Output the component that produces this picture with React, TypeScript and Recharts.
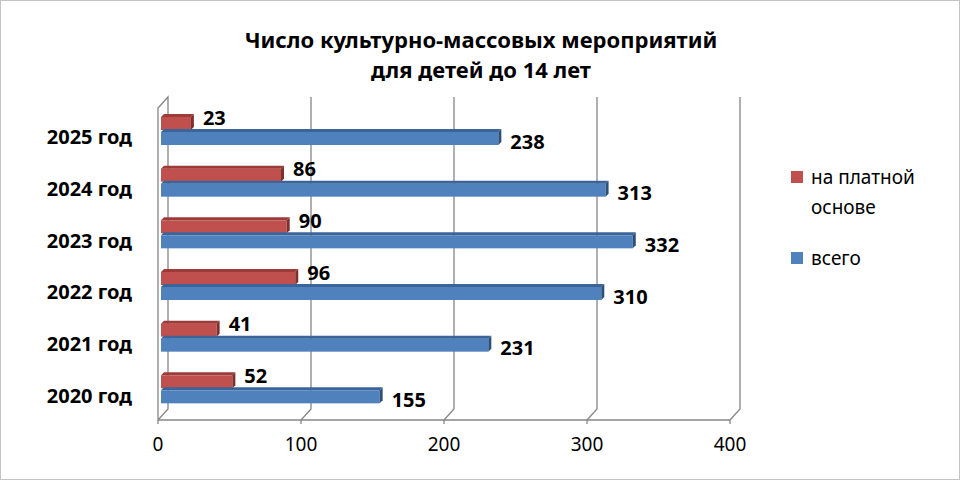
import React from 'react'
import { BarChart, Bar, XAxis, YAxis, CartesianGrid, Legend, LabelList } from 'recharts'

const years = ['2025 год', '2024 год', '2023 год', '2022 год', '2021 год', '2020 год']
const paid = [23, 86, 90, 96, 41, 52]
const total = [238, 313, 332, 310, 231, 155]
const xTicks = [0, 100, 200, 300, 400]

const data = years.map((year, i) => ({ year, paid: paid[i], total: total[i] }))

const FONT = '"Noto Sans", sans-serif'
const DX = 10
const DY = 11

const RED = { front: '#c0504d', top: '#9c3b38', side: '#7f2f2d' }
const BLUE = { front: '#4f81bd', top: '#3b659a', side: '#2c4f7c' }

function bar3d(colors: typeof RED) {
  return (props: any) => {
    const { x, y, width, height } = props
    if (!width) return <g />
    const d = 3
    const x0 = x + 3
    const x1 = x + width
    return (
      <g>
        <rect x={x0} y={y + d} width={x1 - x0} height={height - d} fill={colors.front} />
        <polygon
          points={`${x0},${y + d} ${x0 + d},${y} ${x1 + d},${y} ${x1},${y + d}`}
          fill={colors.top}
        />
        <polygon
          points={`${x1},${y + d} ${x1 + d},${y} ${x1 + d},${y + height - d} ${x1},${y + height}`}
          fill={colors.side}
        />
      </g>
    )
  }
}

const gridLine = (props: any) => {
  const { x1, y1, y2, index } = props
  const stroke = '#868686'
  if (index === 0) {
    return (
      <path
        key={`g${index}`}
        d={`M${x1},${y2} L${x1},${y1 + 4} L${x1 + DX},${y1 - 7} L${x1 + DX},${y2 - DY} L${x1},${y2}`}
        fill="none"
        stroke={stroke}
        strokeWidth={1.3}
      />
    )
  }
  return (
    <path
      key={`g${index}`}
      d={`M${x1},${y2} L${x1 + DX},${y2 - DY} L${x1 + DX},${y1 - 7}`}
      fill="none"
      stroke={stroke}
      strokeWidth={1.3}
    />
  )
}

const valueLabel = (dy: number) => (props: any) => {
  const { x, y, width, height, value } = props
  return (
    <text
      x={x + width + 12}
      y={y + height / 2 + dy}
      fontFamily={FONT}
      fontWeight="bold"
      fontSize={20}
      fill="#000"
      dominantBaseline="central"
    >
      {value}
    </text>
  )
}

const yTick = (props: any) => {
  const { x, y, payload } = props
  return (
    <text
      x={x}
      y={y + 7}
      textAnchor="end"
      dominantBaseline="central"
      fontFamily={FONT}
      fontWeight="bold"
      fontSize={20}
      fill="#000"
    >
      {payload.value}
    </text>
  )
}

const legendContent = () => (
  <div style={{ fontFamily: FONT, fontSize: 19, color: '#000', lineHeight: '30px' }}>
    <div style={{ display: 'flex', alignItems: 'flex-start' }}>
      <span style={{ width: 12, height: 12, background: RED.front, marginTop: 9, marginRight: 8 }} />
      <span>
        на платной
        <br />
        основе
      </span>
    </div>
    <div style={{ display: 'flex', alignItems: 'flex-start', marginTop: 21 }}>
      <span style={{ width: 12, height: 12, background: BLUE.front, marginTop: 9, marginRight: 8 }} />
      <span>всего</span>
    </div>
  </div>
)

export default function App() {
  return (
    <div
      style={{
        position: 'absolute',
        left: 0,
        top: 0,
        width: 960,
        height: 480,
        boxSizing: 'border-box',
        border: '1px solid #c4c4c4',
        background: '#fff',
        overflow: 'hidden',
      }}
    >
      <div
        style={{
          position: 'absolute',
          top: 23,
          left: 0,
          width: 960,
          textAlign: 'center',
          fontFamily: FONT,
          fontWeight: 'bold',
          fontSize: 22,
          lineHeight: '30px',
          color: '#000',
        }}
      >
        Число культурно-массовых мероприятий
        <br />
        для детей до 14 лет
      </div>
      <div style={{ position: 'absolute', left: -1, top: -1 }}>
        <BarChart
          width={960}
          height={480}
          data={data}
          layout="vertical"
          margin={{ top: 104, right: 70, left: 0, bottom: 0 }}
          barSize={16}
          barGap={-1}
        >
          <CartesianGrid horizontal={false} vertical={gridLine} />
          <XAxis
            type="number"
            domain={[0, 400]}
            ticks={xTicks}
            height={60}
            axisLine={{ stroke: '#868686', strokeWidth: 1.3 }}
            tickLine={{ stroke: '#868686', strokeWidth: 1.3 }}
            tickSize={4}
            tickMargin={14}
            tick={{ fontFamily: FONT, fontSize: 19, fill: '#000' }}
          />
          <YAxis
            type="category"
            dataKey="year"
            width={158}
            axisLine={false}
            tickLine={false}
            tickMargin={20}
            padding={{ top: 0, bottom: 6 }}
            tick={yTick}
          />
          <Legend
            layout="vertical"
            align="right"
            verticalAlign="top"
            content={legendContent}
            wrapperStyle={{ left: 791, top: 162, width: 160 }}
          />
          <Bar dataKey="paid" name="на платной основе" shape={bar3d(RED)} isAnimationActive={false}>
            <LabelList dataKey="paid" content={valueLabel(-5)} />
          </Bar>
          <Bar dataKey="total" name="всего" shape={bar3d(BLUE)} isAnimationActive={false}>
            <LabelList dataKey="total" content={valueLabel(4)} />
          </Bar>
        </BarChart>
      </div>
    </div>
  )
}
